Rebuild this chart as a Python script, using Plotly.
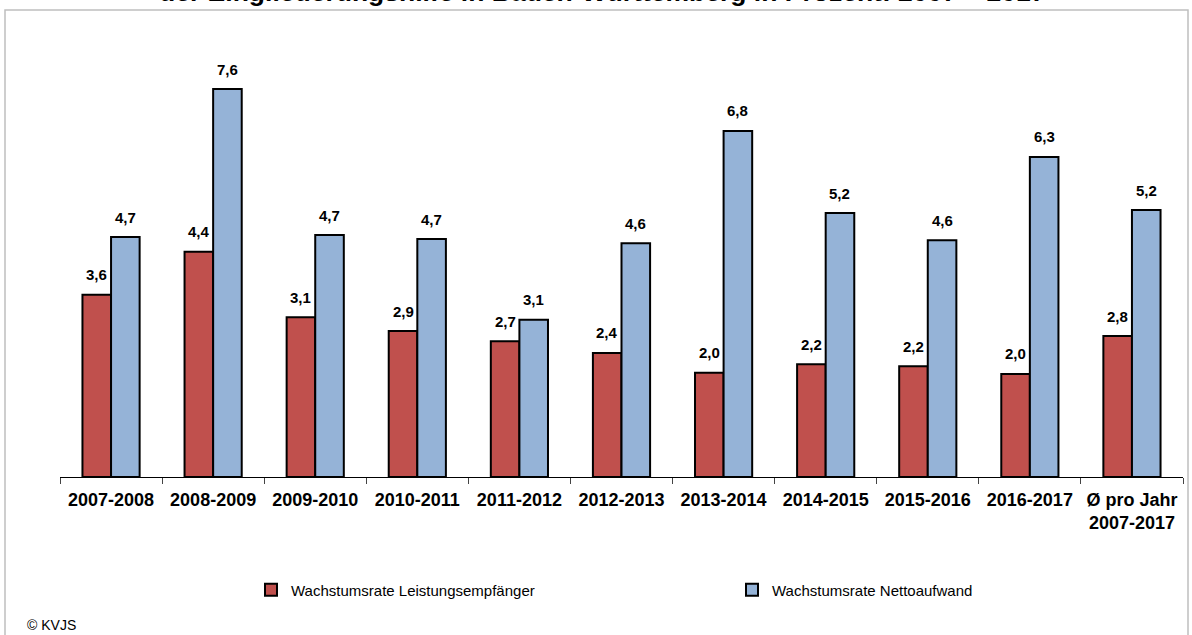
import plotly.graph_objects as go

categories = ["2007-2008", "2008-2009", "2009-2010", "2010-2011", "2011-2012",
              "2012-2013", "2013-2014", "2014-2015", "2015-2016", "2016-2017",
              "Ø pro Jahr<br>2007-2017"]
leistungsempfaenger = [3.57, 4.41, 3.13, 2.86, 2.66, 2.43, 2.04, 2.21, 2.17, 2.02, 2.76]
nettoaufwand = [4.70, 7.60, 4.74, 4.66, 3.08, 4.58, 6.78, 5.17, 4.64, 6.27, 5.23]
series_names = ["Wachstumsrate Leistungsempfänger", "Wachstumsrate Nettoaufwand"]
title_line = "der Eingliederungshilfe in Baden-Württemberg in Prozent: 2007 – 2017"
source_note = "© KVJS"

W, H = 1192, 635
# plot area in page pixels
PL, PR, PT, PB = 60, 1183, 50, 477
ML, MT = PL, PT
MR, MB = W - PR, H - PB
PW, PH = W - ML - MR, H - MT - MB
PX_PER_UNIT = 51.05
FONT = "Liberation Sans"


def px_x(px):
    return (px - ML) / PW


def px_y(py):
    return (H - MB - py) / PH


fig = go.Figure()
colors = ["#C0504D", "#95B3D7"]
legends = ["legend", "legend2"]
for name, vals, col, lg in zip(series_names, [leistungsempfaenger, nettoaufwand], colors, legends):
    fig.add_trace(go.Bar(
        x=categories, y=vals, name=name, legend=lg,
        marker=dict(color=col, line=dict(color="#000000", width=2)),
        hoverinfo="x+y",
    ))

# value labels above bars
offsets = [-14.3, 14.3]
for vals, dx in zip([leistungsempfaenger, nettoaufwand], offsets):
    for c, v in zip(categories, vals):
        fig.add_annotation(x=c, y=v, xref="x", yref="y",
                           text="<b>" + f"{v:.1f}".replace(".", ",") + "</b>",
                           showarrow=False, xshift=dx, yshift=20,
                           xanchor="center", yanchor="middle",
                           font=dict(family=FONT, size=15, color="black"))

legend_common = dict(orientation="h", yanchor="middle", xanchor="left",
                     font=dict(family=FONT, size=15, color="black"),
                     bgcolor="rgba(0,0,0,0)")

fig.update_layout(
    width=W, height=H,
    margin=dict(l=ML, r=MR, t=MT, b=MB, autoexpand=False),
    paper_bgcolor="white", plot_bgcolor="white",
    separators=",.",
    barmode="group", bargap=0.44, bargroupgap=0.0,
    font=dict(family=FONT, color="black"),
    showlegend=True,
    legend=dict(x=px_x(251), y=px_y(590), **legend_common),
    legend2=dict(x=px_x(732), y=px_y(590), **legend_common),
    xaxis=dict(showline=True, linecolor="#000000", linewidth=1,
               ticks="outside", tickson="boundaries", ticklen=6, tickcolor="#444444",
               tickvals=categories, ticktext=["<b>" + c + "</b>" for c in categories],
               tickfont=dict(family=FONT, size=18, color="black"),
               ticklabelstandoff=6, showgrid=False, automargin=False),
    yaxis=dict(range=[0, PH / PX_PER_UNIT], visible=False, showgrid=False, automargin=False),
)

# outer frame
fig.add_shape(type="rect", xref="paper", yref="paper",
              x0=px_x(5), x1=px_x(1188), y0=px_y(H + 30), y1=px_y(10),
              line=dict(color="#BFBFBF", width=1.5), fillcolor="rgba(0,0,0,0)", layer="below")

# title line (clipped at top edge like the reference)
fig.add_annotation(text="<b>" + title_line + "</b>", xref="paper", yref="paper",
                   x=px_x(602), y=px_y(-8),
                   xanchor="center", yanchor="middle", showarrow=False,
                   font=dict(family=FONT, size=26.5, color="black"))

# source note
fig.add_annotation(text=source_note, xref="paper", yref="paper",
                   x=px_x(25), y=px_y(625),
                   xanchor="left", yanchor="middle", showarrow=False,
                   font=dict(family=FONT, size=14, color="black"))

fig.write_html("out.html", config={"displayModeBar": False},
               post_script="document.body.style.margin='0';")
